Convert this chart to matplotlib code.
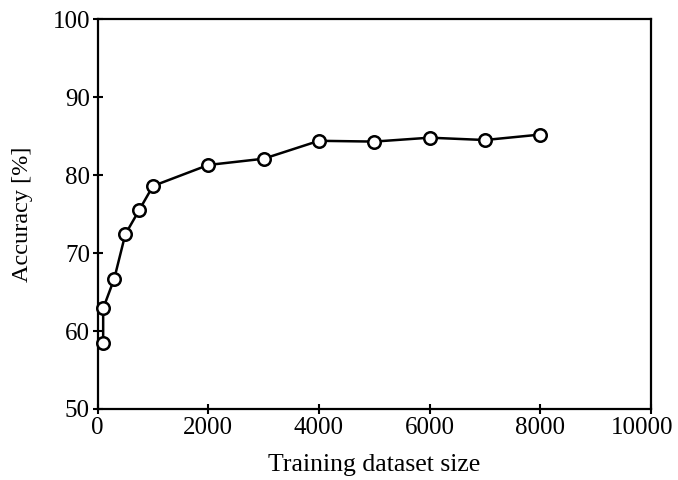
import matplotlib
matplotlib.use("Agg")
import matplotlib.pyplot as plt
import matplotlib.transforms as mtransforms

dataset_size = [100, 100, 300, 500, 750, 1000, 2000, 3000, 4000, 5000, 6000, 7000, 8000]
accuracy = [58.4, 62.9, 66.7, 72.4, 75.5, 78.6, 81.3, 82.1, 84.4, 84.3, 84.8, 84.5, 85.2]
x_ticks = [0, 2000, 4000, 6000, 8000, 10000]
y_ticks = [50, 60, 70, 80, 90, 100]

plt.rcParams['font.family'] = ['Liberation Serif', 'DejaVu Serif']

fig = plt.figure(figsize=(6.78, 4.8), dpi=100)
ax = fig.add_axes([0.144, 0.148, 0.816, 0.812])
ax.plot(dataset_size, accuracy, color='black', lw=1.8, marker='o', ms=9,
        mfc='white', mec='black', mew=1.8, clip_on=False, zorder=3)
ax.set_xlim(0, 10000)
ax.set_ylim(50, 100)
ax.set_xticks(x_ticks)
ax.set_yticks(y_ticks)
ax.tick_params(direction='inout', length=7, width=1.5, labelsize=18, pad=2)
for s in ax.spines.values():
    s.set_linewidth(1.6)
ax.set_xlabel('Training dataset size', fontsize=18.5, labelpad=11)
ax.set_ylabel('Accuracy [%]', fontsize=17.5, labelpad=14)

last = ax.get_xticklabels()[-1]
last.set_transform(last.get_transform() + mtransforms.ScaledTranslation(-0.09, 0, fig.dpi_scale_trans))

fig.savefig('out.png', dpi=100)
